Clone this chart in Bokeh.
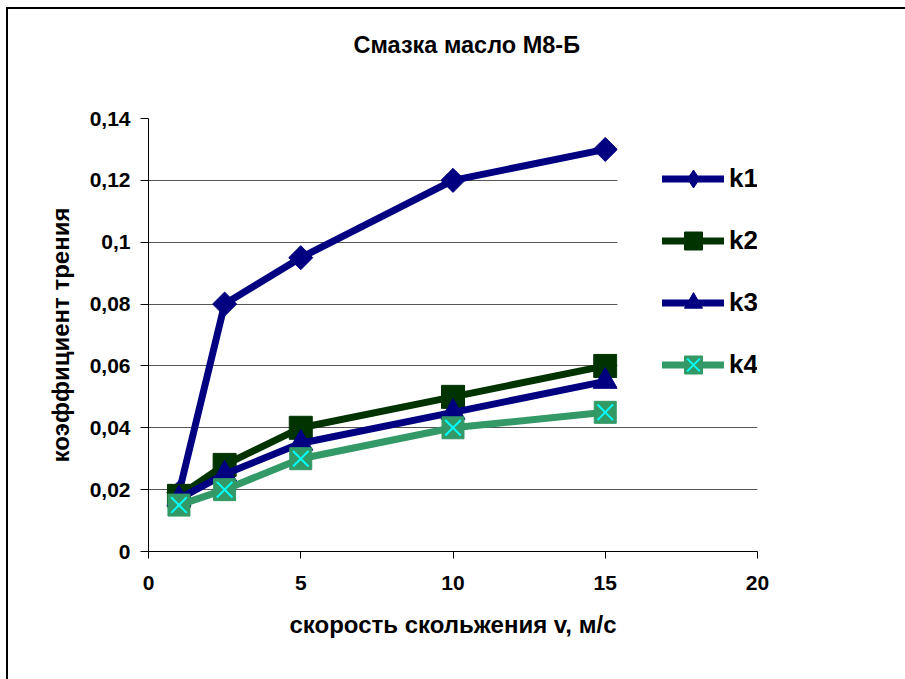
import math
from bokeh.plotting import figure
from bokeh.models import Legend, LegendItem, FixedTicker, BoxAnnotation, Range1d, Title
from bokeh.embed import file_html
from bokeh.resources import INLINE

# ---- data ----
chart_title = "Смазка масло М8-Б"
x_label = "скорость скольжения v, м/с"
y_label = "коэффициент трения"

v = [1, 2.5, 5, 10, 15]
k1 = [0.019, 0.08, 0.095, 0.12, 0.13]
k2 = [0.018, 0.028, 0.04, 0.05, 0.06]
k3 = [0.017, 0.025, 0.035, 0.045, 0.055]
k4 = [0.015, 0.02, 0.03, 0.04, 0.045]
series_names = ["k1", "k2", "k3", "k4"]

x_ticks = [0, 5, 10, 15, 20]
x_tick_labels = ["0", "5", "10", "15", "20"]
y_ticks = [0, 0.02, 0.04, 0.06, 0.08, 0.1, 0.12, 0.14]
y_tick_labels = ["0", "0,02", "0,04", "0,06", "0,08", "0,1", "0,12", "0,14"]

FONT = "Liberation Sans"

p = figure(width=905, height=679, output_backend="svg", toolbar_location=None,
           x_range=Range1d(0, 20), y_range=Range1d(0, 0.14),
           min_border_left=148, min_border_right=148,
           min_border_top=118, min_border_bottom=128,
           background_fill_color="white", border_fill_alpha=0)
p.outline_line_color = None
p.title = None
# outer chart-area frame: left and top edges (drawn behind the transparent border area)
p.styles = {
    "background": ("linear-gradient(#000,#000) 6px 7px / 2px 700px no-repeat, "
                   "linear-gradient(#000,#000) 6px 7px / 920px 2px no-repeat, #ffffff"),
}

# spacer between plot area and title, then the title itself
spacer = Title(text=" ", text_font_size="1px", standoff=58)
p.add_layout(spacer, "above")
title = Title(text=chart_title, align="left", offset=205, standoff=0,
              text_font=FONT, text_font_style="bold", text_font_size="23.5px",
              text_color="black")
p.add_layout(title, "above")

# axes
for ax in (p.xaxis[0], p.yaxis[0]):
    ax.axis_line_color = "black"
    ax.axis_line_width = 1
    ax.major_tick_line_color = "black"
    ax.major_tick_in = 0
    ax.minor_tick_line_color = None
    ax.major_label_text_font = FONT
    ax.major_label_text_font_style = "bold"
    ax.major_label_text_font_size = "21px"
    ax.major_label_text_color = "black"
    ax.axis_label_text_font = FONT
    ax.axis_label_text_font_style = "bold"
    ax.axis_label_text_font_size = "24px"
    ax.axis_label_text_color = "black"

p.xaxis[0].ticker = FixedTicker(ticks=x_ticks)
p.xaxis[0].major_label_overrides = {t: l for t, l in zip(x_ticks, x_tick_labels)}
p.xaxis[0].major_tick_out = 7
p.xaxis[0].major_label_standoff = 17
p.xaxis[0].axis_label = x_label
p.xaxis[0].axis_label_standoff = 18

p.yaxis[0].ticker = FixedTicker(ticks=y_ticks)
p.yaxis[0].major_label_overrides = {t: l for t, l in zip(y_ticks, y_tick_labels)}
p.yaxis[0].major_tick_out = 8
p.yaxis[0].major_label_standoff = 10
p.yaxis[0].axis_label = y_label
p.yaxis[0].axis_label_standoff = 13

p.xgrid.visible = False
p.ygrid.ticker = FixedTicker(ticks=y_ticks)
p.ygrid.grid_line_color = "#555555"
p.ygrid.grid_line_width = 1

NAVY = "#000080"
DKGREEN = "#003300"
SEA = "#339966"
CYAN = "#00FFFF"
LW = 7

r1l = p.line(v, k1, line_color=NAVY, line_width=LW, line_join="round", line_cap="round")
r1m = p.scatter(v, k1, marker="square", size=17, angle=math.pi / 4,
                fill_color=NAVY, line_color=NAVY)
# marker shown in the legend only (no data point)
r1leg = p.scatter([float("nan")], [float("nan")], marker="diamond",
                  fill_color=NAVY, line_color=NAVY)

r2l = p.line(v, k2, line_color=DKGREEN, line_width=LW, line_join="round", line_cap="round")
r2m = p.scatter(v, k2, marker="square", size=23, fill_color=DKGREEN, line_color=DKGREEN)

r3l = p.line(v, k3, line_color=NAVY, line_width=LW, line_join="round", line_cap="round")
r3m = p.scatter(v, k3, marker="triangle", size=24, fill_color=NAVY, line_color=NAVY)

r4l = p.line(v, k4, line_color=SEA, line_width=LW, line_join="round", line_cap="round")
r4m = p.scatter(v, k4, marker="square", size=22, fill_color=SEA, line_color=SEA)
r4x = p.scatter(v, k4, marker="x", size=22, line_color=CYAN, line_width=2)

# white area behind legend (legend box)
cover = BoxAnnotation(left=15.4, right=20, bottom=0.05, top=0.133,
                      fill_color="white", fill_alpha=1, line_color=None)
p.add_layout(cover)

legend = Legend(items=[
    LegendItem(label=series_names[0], renderers=[r1l, r1leg]),
    LegendItem(label=series_names[1], renderers=[r2l, r2m]),
    LegendItem(label=series_names[2], renderers=[r3l, r3m]),
    LegendItem(label=series_names[3], renderers=[r4l, r4m, r4x]),
], location=(514, 164))
legend.padding = 0
legend.margin = 0
legend.spacing = 17
legend.glyph_width = 62
legend.glyph_height = 45
legend.label_height = 45
legend.label_standoff = 5
legend.label_text_font = FONT
legend.label_text_font_style = "bold"
legend.label_text_font_size = "26px"
legend.label_text_color = "black"
legend.border_line_color = None
legend.background_fill_alpha = 0
p.add_layout(legend)

open("out.html", "w").write(file_html(p, INLINE))
